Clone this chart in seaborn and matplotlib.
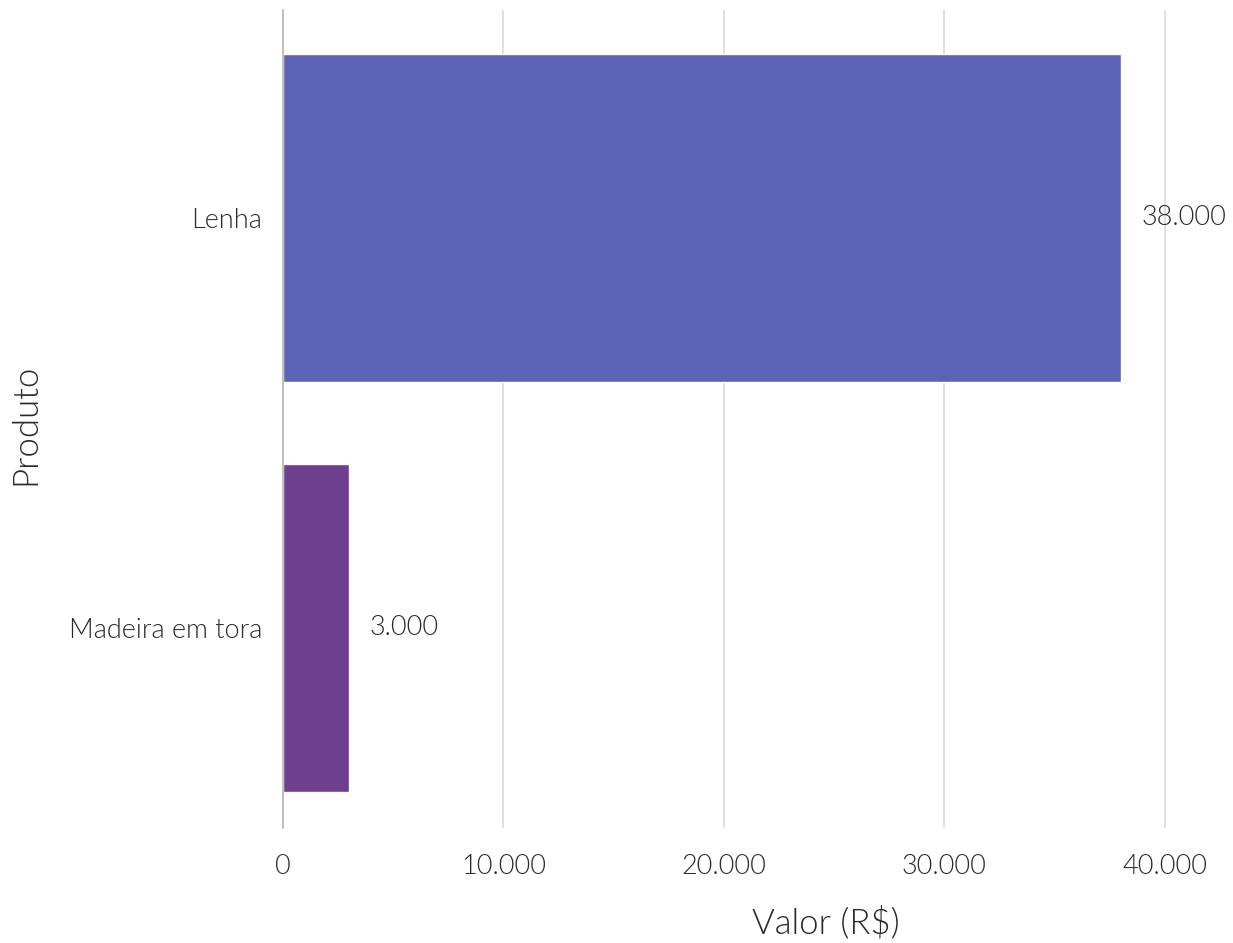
import matplotlib
matplotlib.use("Agg")
import matplotlib.pyplot as plt
from matplotlib.ticker import FuncFormatter, FixedLocator
import seaborn as sns
import pandas as pd

produtos = ["Lenha", "Madeira em tora"]
valores = [38000, 3000]
cores = ["#5B64B7", "#6F3F8F"]
xticks = [0, 10000, 20000, 30000, 40000]

df = pd.DataFrame({"Produto": produtos, "Valor": valores})

sns.set_style("white")
plt.rcParams["font.family"] = ["Lato", "DejaVu Sans"]
plt.rcParams["font.weight"] = 300

TXT = "#2A2A2A"


def fmt(v, pos=None):
    return f"{v:,.0f}".replace(",", ".")


fig = plt.figure(figsize=(12.33, 9.43), dpi=100)
ax = fig.add_axes([283 / 1233, 1 - 828 / 943, 917 / 1233, 818 / 943])

sns.barplot(data=df, y="Produto", x="Valor", hue="Produto", palette=cores,
            saturation=1, orient="h", width=0.8, legend=False, ax=ax, zorder=3)

ax.set_xlim(0, 41600)
ax.set_ylim(1.488, -0.507)
ax.xaxis.set_major_locator(FixedLocator(xticks))
ax.xaxis.set_major_formatter(FuncFormatter(fmt))
ax.grid(axis="x", color="#DDDDDD", linewidth=1.3, zorder=0)
ax.set_axisbelow(True)

for s in ["top", "right", "bottom"]:
    ax.spines[s].set_visible(False)
ax.spines["left"].set_color("#BBBBBB")
ax.spines["left"].set_linewidth(1.3)
ax.spines["left"].set_zorder(4)

ax.tick_params(axis="both", length=0, labelsize=19.5, colors=TXT)
ax.tick_params(axis="x", pad=19)
ax.tick_params(axis="y", pad=15)
for lbl in ax.get_xticklabels() + ax.get_yticklabels():
    lbl.set_fontweight(300)

for c in ax.containers:
    ax.bar_label(c, labels=[fmt(v) for v in c.datavalues], padding=15,
                 fontsize=19.5, color=TXT, fontweight=300)

ax.set_xlabel("Valor (R$)", fontsize=25, color=TXT, fontweight=300)
ax.set_ylabel("Produto", fontsize=25, color=TXT, fontweight=300)
ax.xaxis.set_label_coords(0.592, -0.116)
ax.xaxis.label.set_va("center")
ax.yaxis.set_label_coords(-0.281, 0.494)
ax.yaxis.label.set_va("center")

fig.savefig("out.png", dpi=100)
